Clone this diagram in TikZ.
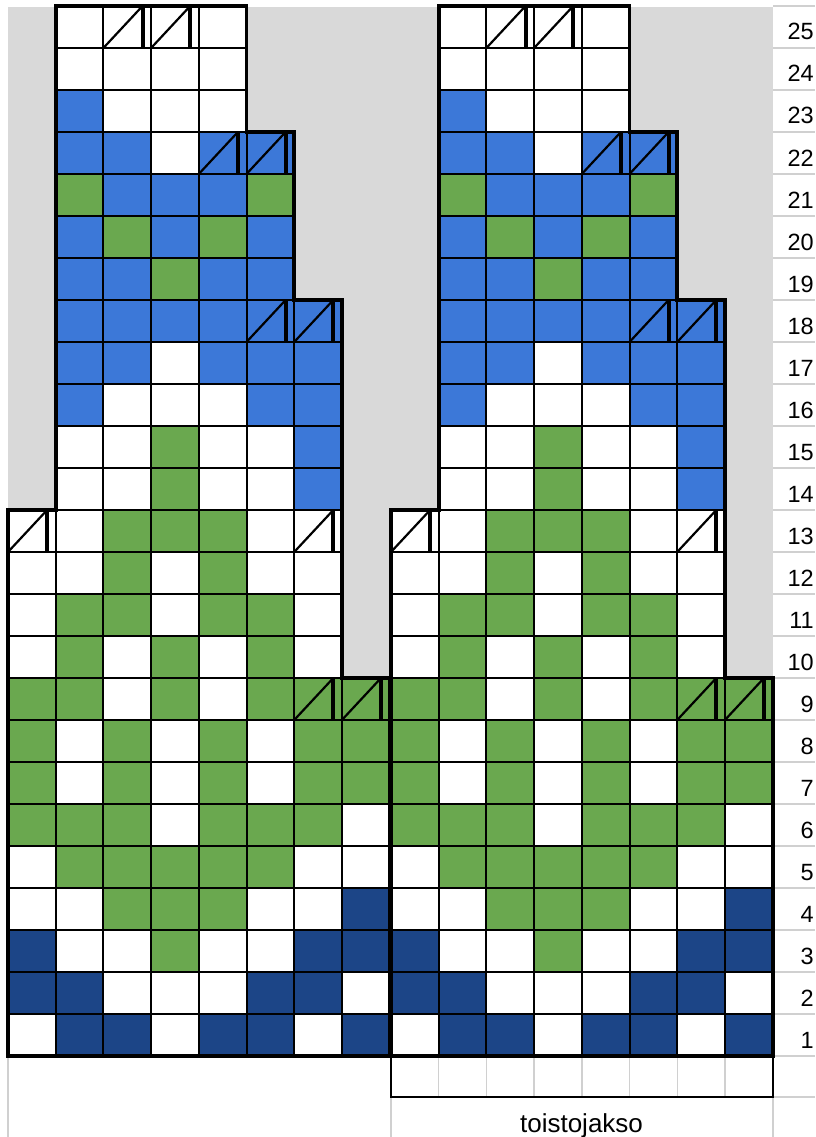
\documentclass[tikz,border=0pt]{standalone}
\usepackage{fontspec}
\setmainfont{Liberation Sans}
\usetikzlibrary{calc}
\definecolor{lb}{HTML}{3C78D8}
\definecolor{gr}{HTML}{6AA84F}
\definecolor{db}{HTML}{1C4587}
\definecolor{bgg}{HTML}{D9D9D9}
\definecolor{gl}{HTML}{D0D0D0}
\tikzset{
  cW/.style={fill=white}, cB/.style={fill=lb}, cG/.style={fill=gr}, cD/.style={fill=db},
  gridcell/.style={draw=black, line width=2pt},
  outline/.style={draw=black, line width=3.8pt, line join=miter},
  slashline/.style={draw=black, line width=2.2pt},
  slashbar/.style={draw=black, line width=4pt},
  sheetline/.style={draw=gl, line width=1.4pt},
  rownum/.style={anchor=base east, inner sep=0pt, font=\fontsize{23.5}{27}\selectfont},
  footlabel/.style={anchor=base, inner sep=0pt, font=\fontsize{26}{30}\selectfont},
}
\begin{document}
\begin{tikzpicture}[x=1pt,y=-1pt]
\useasboundingbox (0,0) rectangle (815,1137);
\fill[white] (0,0) rectangle (815,1137);
\fill[bgg] (8,7) rectangle (773,1056);
\def\w{47.7}
\def\h{42}
% spreadsheet grid lines
\foreach \r in {1,...,25}{
  \draw[sheetline] (773,{6+(25-\r)*\h}) -- (815,{6+(25-\r)*\h});
}
\draw[sheetline] (773,1056) -- (815,1056);
\draw[sheetline] (773,1097) -- (815,1097);
\draw[sheetline] (8,1056) -- (8,1137);
\draw[sheetline] (391,1097) -- (391,1137);
\draw[sheetline] (773,1097) -- (773,1137);
% extra row under the repeat
\foreach \c in {2,...,8}{
  \draw[sheetline] ({391+(\c-1)*\w},1056) -- ({391+(\c-1)*\w},1097);
}
\draw[black, line width=1.8pt] (391,1056) rectangle ({391+8*\w},1097);
% charts
\foreach \ox in {8,391}{
  \foreach \r/\s/\codes in {
    25/2/{W,W,W,W},
    24/2/{W,W,W,W},
    23/2/{B,W,W,W},
    22/2/{B,B,W,B,B},
    21/2/{G,B,B,B,G},
    20/2/{B,G,B,G,B},
    19/2/{B,B,G,B,B},
    18/2/{B,B,B,B,B,B},
    17/2/{B,B,W,B,B,B},
    16/2/{B,W,W,W,B,B},
    15/2/{W,W,G,W,W,B},
    14/2/{W,W,G,W,W,B},
    13/1/{W,W,G,G,G,W,W},
    12/1/{W,W,G,W,G,W,W},
    11/1/{W,G,G,W,G,G,W},
    10/1/{W,G,W,G,W,G,W},
    9/1/{G,G,W,G,W,G,G,G},
    8/1/{G,W,G,W,G,W,G,G},
    7/1/{G,W,G,W,G,W,G,G},
    6/1/{G,G,G,W,G,G,G,W},
    5/1/{W,G,G,G,G,G,W,W},
    4/1/{W,W,G,G,G,W,W,D},
    3/1/{D,W,W,G,W,W,D,D},
    2/1/{D,D,W,W,W,D,D,W},
    1/1/{W,D,D,W,D,D,W,D}}{
    \foreach \c [count=\i from 0] in \codes {
      \path[c\c, gridcell] ({\ox+(\s-1+\i)*\w},{6+(25-\r)*\h}) rectangle ++(\w,\h);
    }
  }
  \foreach \c/\r in {3/25,4/25,5/22,6/22,6/18,7/18,1/13,7/13,7/9,8/9}{
    \pgfmathsetmacro\xa{\ox+(\c-1)*\w}
    \pgfmathsetmacro\xb{\xa+0.82*\w}
    \pgfmathsetmacro\ya{6+(25-\r)*\h}
    \pgfmathsetmacro\yb{\ya+\h}
    \draw[slashline] (\xa,\yb) -- (\xb,\ya);
    \draw[slashbar] (\xb,\ya) -- (\xb,\yb);
  }
  \draw[outline] ({\ox+\w},6) -| ({\ox+5*\w},132) -| ({\ox+6*\w},300)
    -| ({\ox+7*\w},678) -| ({\ox+8*\w},1056) -| (\ox,510) -| ({\ox+\w},6) -- cycle;
}
% row numbers
\foreach \r in {1,...,25}{
  \node[rownum] (n\r) at (814,{6+(26-\r)*\h-8}) {\r};
}
\node[footlabel] (lbl) at (581.5,1132) {toistojakso};
\end{tikzpicture}
\end{document}
